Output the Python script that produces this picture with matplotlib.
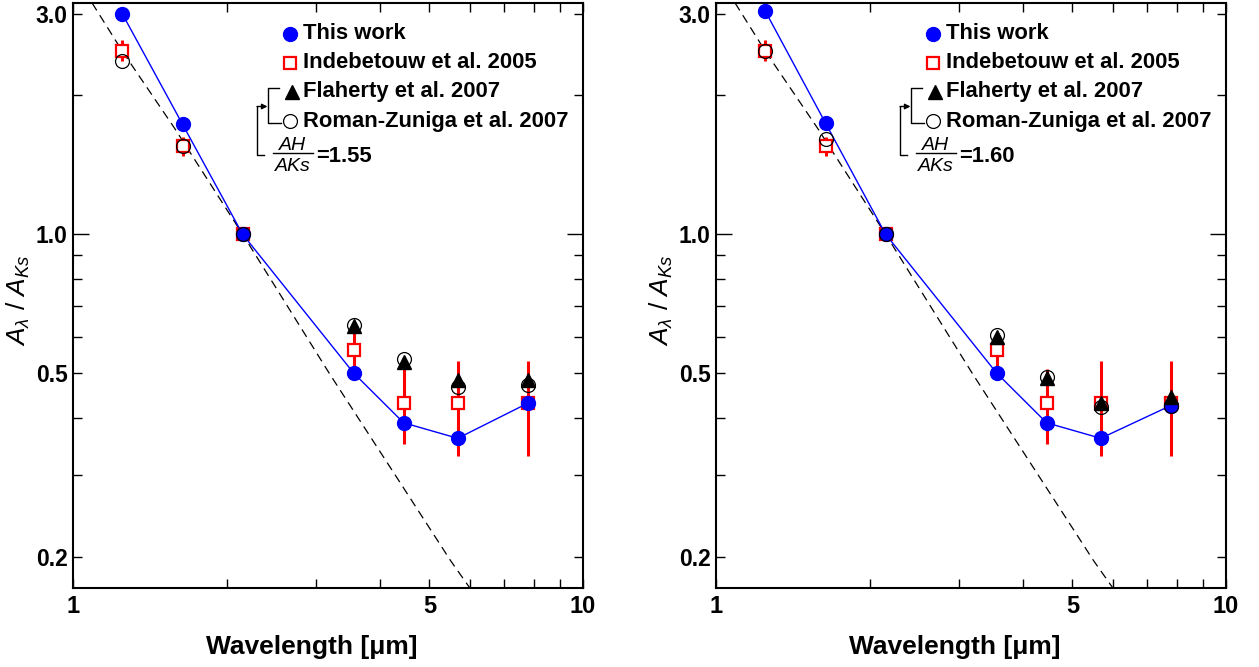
import numpy as np
import matplotlib
matplotlib.use('Agg')
import matplotlib.pyplot as plt
from matplotlib.lines import Line2D
from matplotlib.ticker import NullFormatter

plt.rcParams['font.family'] = ['Liberation Sans', 'DejaVu Sans']
plt.rcParams['font.weight'] = 'bold'
plt.rcParams['mathtext.fontset'] = 'custom'
plt.rcParams['mathtext.rm'] = 'Liberation Sans:weight=normal'
plt.rcParams['mathtext.it'] = 'Liberation Sans:style=italic:weight=normal'

W, H = 1259, 667

# wavelengths [um]: J, H, Ks, IRAC 3.6, 4.5, 5.8, 8.0
lam = [1.25, 1.64, 2.15, 3.55, 4.45, 5.68, 7.79]
lam_irac = [3.55, 4.45, 5.68, 7.79]

# this work, left (AH/AKs=1.55) and right (AH/AKs=1.60)
this_work_l = [3.00, 1.73, 1.00, 0.50, 0.39, 0.361, 0.43]
this_work_r = [3.04, 1.74, 1.00, 0.50, 0.39, 0.361, 0.425]

# Indebetouw et al. 2005
indeb = [2.50, 1.55, 1.00, 0.56, 0.43, 0.43, 0.43]
indeb_err = [0.13, 0.07, 0.0, 0.055, 0.08, 0.10, 0.10]

# Flaherty et al. 2007 (IRAC only)
flah_l = [0.632, 0.528, 0.484, 0.484]
flah_r = [0.598, 0.487, 0.431, 0.443]

# Roman-Zuniga et al. 2007
roman_l = [2.37, 1.55, 1.00, 0.634, 0.535, 0.466, 0.47]
roman_r = [2.50, 1.61, 1.00, 0.604, 0.49, 0.422, 0.425]

# dashed curve
lam_curve = [1.09, 1.25, 1.58, 2.15, 3.2, 4.33, 5.5, 6.0]
a_curve = [3.17, 2.49, 1.70, 1.00, 0.494, 0.295, 0.196, 0.171]

fig = plt.figure(figsize=(W / 100, H / 100), dpi=100)


def fx(x):
    return x / W


def fy(y):
    return 1 - y / H


def fline(xs, ys, **kw):
    fig.add_artist(Line2D([fx(v) for v in xs], [fy(v) for v in ys],
                          transform=fig.transFigure, **kw))


def panel(x0, blue, flah, roman, ratio):
    ax = fig.add_axes([fx(x0), fy(588), 510 / W, 585 / H])
    ax.set_xscale('log')
    ax.set_yscale('log')

    ax.plot(lam_curve, a_curve, color='black', ls=(0, (7, 4.5)), lw=0.9, zorder=1)
    ax.errorbar(lam, indeb, yerr=indeb_err, fmt='none', ecolor='red',
                elinewidth=2.2, capsize=0, zorder=2)
    ax.plot(lam, indeb, 's', mfc='white', mec='red', mew=1.6, ms=9, zorder=3)
    ax.plot(lam, blue, '-', color='blue', lw=1.0, zorder=4)
    ax.plot(lam, blue, 'o', color='blue', ms=10, zorder=4)
    ax.plot(lam, roman, 'o', mfc='none', mec='black', mew=0.9, ms=10, zorder=5)
    ax.plot(lam_irac, flah, '^', color='black', ms=10.5, zorder=6)

    ax.set_xlim(1, 10)
    ax.set_ylim(0.171, 3.17)
    ax.set_xticks([1, 5, 10], ['1', '5', '10'])
    ax.set_xticks([2, 3, 4, 6, 7, 8, 9], minor=True)
    ax.set_yticks([0.2, 0.5, 1.0, 3.0], ['0.2', '0.5', '1.0', '3.0'])
    ax.set_yticks([0.3, 0.4, 0.6, 0.7, 0.8, 0.9, 2.0], minor=True)
    ax.xaxis.set_minor_formatter(NullFormatter())
    ax.yaxis.set_minor_formatter(NullFormatter())
    ax.tick_params(which='both', direction='in', top=True, right=True,
                   length=6.3, width=1.0)
    ax.tick_params(axis='x', labelsize=17, pad=5)
    ax.tick_params(axis='y', labelsize=16.5, pad=4)
    for t in ax.yaxis.get_major_ticks():
        if t.get_loc() == 1.0:
            t.tick1line.set_markersize(11.3)
            t.tick2line.set_markersize(11.3)
    for s in ax.spines.values():
        s.set_linewidth(1.5)

    # axis labels
    fig.text(fx(x0 - 55), fy(300), r'$A_{\lambda}$ / $A_{Ks}$', rotation=90,
             ha='center', va='center', fontsize=19, fontweight='normal')
    fig.text(fx(x0 + 239), fy(647), 'Wavelength [μm]', ha='center',
             va='center', fontsize=19, fontweight='bold')

    # legend
    mx = x0 + 216.5
    tx = x0 + 230
    rows = [33.5, 62.5, 91.5, 121]
    fline([mx], [rows[0]], marker='o', color='blue', ms=10, ls='none')
    fline([mx], [rows[1]], marker='s', mfc='white', mec='red', mew=1.6, ms=9, ls='none')
    fline([mx + 2], [rows[2]], marker='^', color='black', ms=10.5, ls='none')
    fline([mx], [rows[3]], marker='o', mfc='none', mec='black', mew=0.9, ms=10, ls='none')
    labels = ['This work', 'Indebetouw et al. 2005',
              'Flaherty et al. 2007', 'Roman-Zuniga et al. 2007']
    for r, lbl in zip(rows, labels):
        fig.text(fx(tx), fy(r), lbl, ha='left', va='center', fontsize=15.8,
                 fontweight='bold')

    # bracket joining Flaherty and Roman-Zuniga
    bx = x0 + 194.5
    fline([bx + 11.5, bx, bx, bx + 13.5], [88, 88, 123, 123], color='black', lw=1.0)
    ax_x = x0 + 184
    fline([ax_x + 7, ax_x, ax_x], [155, 155, 106.5], color='black', lw=1.0)
    fig.add_artist(matplotlib.patches.FancyArrowPatch(
        (fx(ax_x), fy(106.5)), (fx(bx), fy(106.5)), transform=fig.transFigure,
        arrowstyle='-|>', mutation_scale=8, color='black', lw=1.0,
        shrinkA=0, shrinkB=0))

    # AH / AKs fraction
    cx = x0 + 220
    fig.text(fx(cx), fy(145.5), 'AH', ha='center', va='center', fontsize=14,
             style='italic', fontweight='normal')
    fline([cx - 20, cx + 20], [153, 153], color='black', lw=1.0)
    fig.text(fx(cx), fy(166.5), 'AKs', ha='center', va='center', fontsize=14,
             style='italic', fontweight='normal')
    fig.text(fx(x0 + 243), fy(157), '=' + ratio, ha='left', va='center',
             fontsize=15.8, fontweight='bold')
    return ax


panel(73, this_work_l, flah_l, roman_l, '1.55')
panel(716, this_work_r, flah_r, roman_r, '1.60')

fig.savefig('out.png', dpi=100)
